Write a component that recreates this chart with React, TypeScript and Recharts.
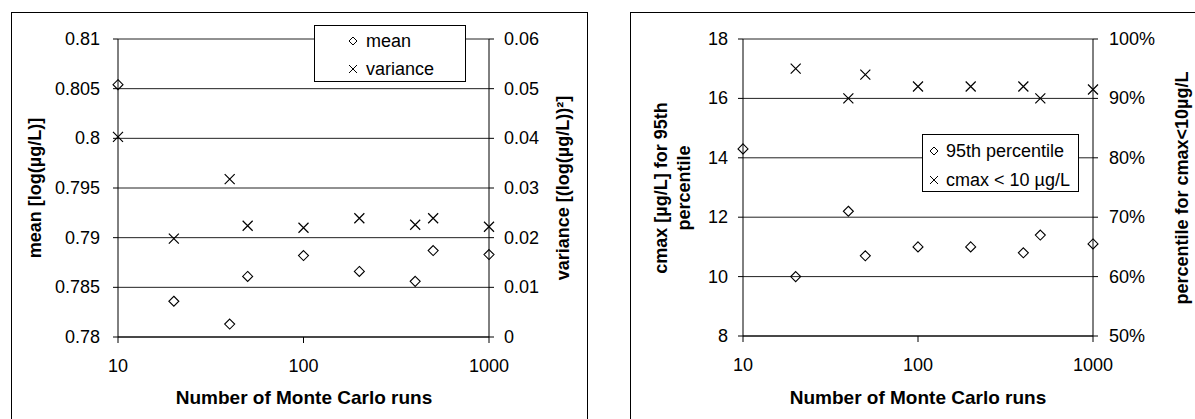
import React from 'react';
import { CartesianGrid, Scatter, ScatterChart, XAxis, YAxis } from 'recharts';

// Monte Carlo convergence: run counts on a log axis
const runs = [10, 20, 40, 50, 100, 200, 400, 500, 1000];

// left panel: mean and variance of log concentration
const meanValues = [0.8054, 0.7836, 0.7813, 0.7861, 0.7882, 0.7866, 0.7856, 0.7887, 0.7883];
const varianceValues = [0.0403, 0.0198, 0.0318, 0.0224, 0.022, 0.0239, 0.0226, 0.0239, 0.0222];

// right panel: 95th percentile cmax and share of runs with cmax < 10 µg/L
const p95Values = [14.3, 10.0, 12.2, 10.7, 11.0, 11.0, 10.8, 11.4, 11.1];
const cmaxRuns = [20, 40, 50, 100, 200, 400, 500, 1000];
const cmaxShare = [0.95, 0.9, 0.94, 0.92, 0.92, 0.92, 0.9, 0.915];

const xTicks = [10, 100, 1000];
const meanTicks = [0.78, 0.785, 0.79, 0.795, 0.8, 0.805, 0.81];
const varianceTicks = [0, 0.01, 0.02, 0.03, 0.04, 0.05, 0.06];
const p95Ticks = [8, 10, 12, 14, 16, 18];
const shareTicks = [0.5, 0.6, 0.7, 0.8, 0.9, 1.0];

const FONT = '"Liberation Sans", Arial, sans-serif';

const toPoints = (xs: number[], ys: number[]) => xs.map((x, i) => ({ x, y: ys[i] }));

const pct = (v: number) => `${Math.round(v * 100)}%`;

// tick label renderers; x/y come from the axis, offset by tickSize + tickMargin
const makeTick = (anchor: 'start' | 'middle' | 'end', fmt?: (v: number) => string) => (props: any) => {
    const { x, y, payload } = props;
    const v = payload.value;
    return (
        <text
            x={x}
            y={y}
            textAnchor={anchor}
            dominantBaseline={anchor === 'middle' ? 'hanging' : 'central'}
            fontSize={18}
            fontFamily={FONT}
            fill="#000"
        >
            {fmt ? fmt(v) : String(v)}
        </text>
    );
};

const Diamond = ({ cx, cy }: any) => (
    <path
        d={`M${cx},${cy - 5}L${cx + 5},${cy}L${cx},${cy + 5}L${cx - 5},${cy}Z`}
        fill="none"
        stroke="#000"
        strokeWidth={1.1}
    />
);

const Cross = ({ cx, cy }: any) => (
    <path
        d={`M${cx - 5},${cy - 5}L${cx + 5},${cy + 5}M${cx + 5},${cy - 5}L${cx - 5},${cy + 5}`}
        fill="none"
        stroke="#000"
        strokeWidth={1.2}
    />
);

const DiamondIcon = () => (
    <svg width={10} height={10} style={{ display: 'block' }}>
        <path d="M5,1L9,5L5,9L1,5Z" fill="none" stroke="#000" strokeWidth={1} />
    </svg>
);

const CrossIcon = () => (
    <svg width={10} height={10} style={{ display: 'block' }}>
        <path d="M1,1L9,9M9,1L1,9" fill="none" stroke="#000" strokeWidth={1} />
    </svg>
);

const VTitle = ({ x, y, lines }: { x: number; y: number; lines: string[] }) => (
    <div
        style={{
            position: 'absolute',
            left: x,
            top: y,
            transform: 'translate(-50%, -50%) rotate(-90deg)',
            whiteSpace: 'nowrap',
            fontFamily: FONT,
            fontWeight: 'bold',
            fontSize: 18,
            lineHeight: '23px',
            textAlign: 'center',
        }}
    >
        {lines.map((l) => (
            <div key={l}>{l}</div>
        ))}
    </div>
);

const HTitle = ({ x, y, text }: { x: number; y: number; text: string }) => (
    <div
        style={{
            position: 'absolute',
            left: x,
            top: y,
            transform: 'translate(-50%, -50%)',
            whiteSpace: 'nowrap',
            fontFamily: FONT,
            fontWeight: 'bold',
            fontSize: 19,
        }}
    >
        {text}
    </div>
);

interface LegendRow {
    icon: React.ReactNode;
    label: string;
    center: number;
}

const LegendBox = ({ left, top, width, height, iconX, textX, rows }: any) => (
    <div
        style={{
            position: 'absolute',
            left,
            top,
            width,
            height,
            boxSizing: 'border-box',
            border: '1px solid #000',
            background: '#fff',
            fontFamily: FONT,
            fontSize: 18,
        }}
    >
        {rows.map((r: LegendRow) => (
            <React.Fragment key={r.label}>
                <div style={{ position: 'absolute', left: iconX, top: r.center - 5 }}>{r.icon}</div>
                <div
                    style={{
                        position: 'absolute',
                        left: textX,
                        top: r.center - 14,
                        height: 28,
                        lineHeight: '28px',
                        whiteSpace: 'nowrap',
                    }}
                >
                    {r.label}
                </div>
            </React.Fragment>
        ))}
    </div>
);

const frameStyle: React.CSSProperties = {
    position: 'absolute',
    top: 12,
    height: 430,
    border: '1px solid #000',
    boxSizing: 'border-box',
};

export default function App() {
    const meanData = toPoints(runs, meanValues);
    const varianceData = toPoints(runs, varianceValues);
    const p95Data = toPoints(runs, p95Values);
    const shareData = toPoints(cmaxRuns, cmaxShare);

    const axisLines = {
        stroke: '#000',
        tickLine: { stroke: '#000' },
        axisLine: { stroke: '#000' },
    };

    const xAxis = (
        <XAxis
            {...axisLines}
            dataKey="x"
            type="number"
            scale="log"
            domain={[10, 1000]}
            ticks={xTicks}
            height={40}
            tickSize={6}
            tickMargin={16}
            tick={makeTick('middle')}
        />
    );

    return (
        <div
            style={{
                position: 'absolute',
                left: 0,
                top: 0,
                width: 1195,
                height: 419,
                overflow: 'hidden',
                background: '#fff',
            }}
        >
            {/* chart frames, open at the bottom */}
            <div style={{ ...frameStyle, left: 11, width: 577 }} />
            <div style={{ ...frameStyle, left: 630, width: 600 }} />

            <div style={{ position: 'absolute', left: 0, top: 0 }}>
                <ScatterChart width={600} height={419} margin={{ top: 39, left: 58, right: 51, bottom: 42 }}>
                    <CartesianGrid yAxisId="left" vertical={false} stroke="#222" />
                    {xAxis}
                    <YAxis
                        {...axisLines}
                        yAxisId="left"
                        dataKey="y"
                        type="number"
                        domain={[0.78, 0.81]}
                        ticks={meanTicks}
                        width={60}
                        tickSize={5}
                        tickMargin={13}
                        tick={makeTick('end')}
                    />
                    <YAxis
                        {...axisLines}
                        yAxisId="right"
                        orientation="right"
                        dataKey="y"
                        type="number"
                        domain={[0, 0.06]}
                        ticks={varianceTicks}
                        width={60}
                        tickSize={5}
                        tickMargin={10}
                        tick={makeTick('start')}
                    />
                    <Scatter yAxisId="left" data={meanData} shape={Diamond} isAnimationActive={false} />
                    <Scatter yAxisId="right" data={varianceData} shape={Cross} isAnimationActive={false} />
                </ScatterChart>
            </div>

            <div style={{ position: 'absolute', left: 600, top: 0 }}>
                <ScatterChart width={595} height={419} margin={{ top: 39, left: 83, right: 42, bottom: 43 }}>
                    <CartesianGrid yAxisId="left" vertical={false} stroke="#222" />
                    {xAxis}
                    <YAxis
                        {...axisLines}
                        yAxisId="left"
                        dataKey="y"
                        type="number"
                        domain={[8, 18]}
                        ticks={p95Ticks}
                        width={60}
                        tickSize={5}
                        tickMargin={10}
                        tick={makeTick('end')}
                    />
                    <YAxis
                        {...axisLines}
                        yAxisId="right"
                        orientation="right"
                        dataKey="y"
                        type="number"
                        domain={[0.5, 1]}
                        ticks={shareTicks}
                        width={60}
                        tickSize={5}
                        tickMargin={11}
                        tick={makeTick('start', pct)}
                    />
                    <Scatter yAxisId="left" data={p95Data} shape={Diamond} isAnimationActive={false} />
                    <Scatter yAxisId="right" data={shareData} shape={Cross} isAnimationActive={false} />
                </ScatterChart>
            </div>

            <LegendBox
                left={314}
                top={25}
                width={152}
                height={57}
                iconX={33}
                textX={51}
                rows={[
                    { icon: <DiamondIcon />, label: 'mean', center: 15 },
                    { icon: <CrossIcon />, label: 'variance', center: 43 },
                ]}
            />
            <LegendBox
                left={922}
                top={134}
                width={157}
                height={58}
                iconX={6}
                textX={23}
                rows={[
                    { icon: <DiamondIcon />, label: '95th percentile', center: 16 },
                    { icon: <CrossIcon />, label: 'cmax < 10 µg/L', center: 45 },
                ]}
            />

            <HTitle x={304} y={398} text="Number of Monte Carlo runs" />
            <HTitle x={918} y={398} text="Number of Monte Carlo runs" />
            <VTitle x={35} y={188} lines={['mean [log(µg/L)]']} />
            <VTitle x={563} y={188} lines={['variance [(log(µg/L))²]']} />
            <VTitle x={673} y={188} lines={['cmax [µg/L] for 95th', 'percentile']} />
            <VTitle x={1182} y={188} lines={['percentile for cmax<10µg/L']} />
        </div>
    );
}
